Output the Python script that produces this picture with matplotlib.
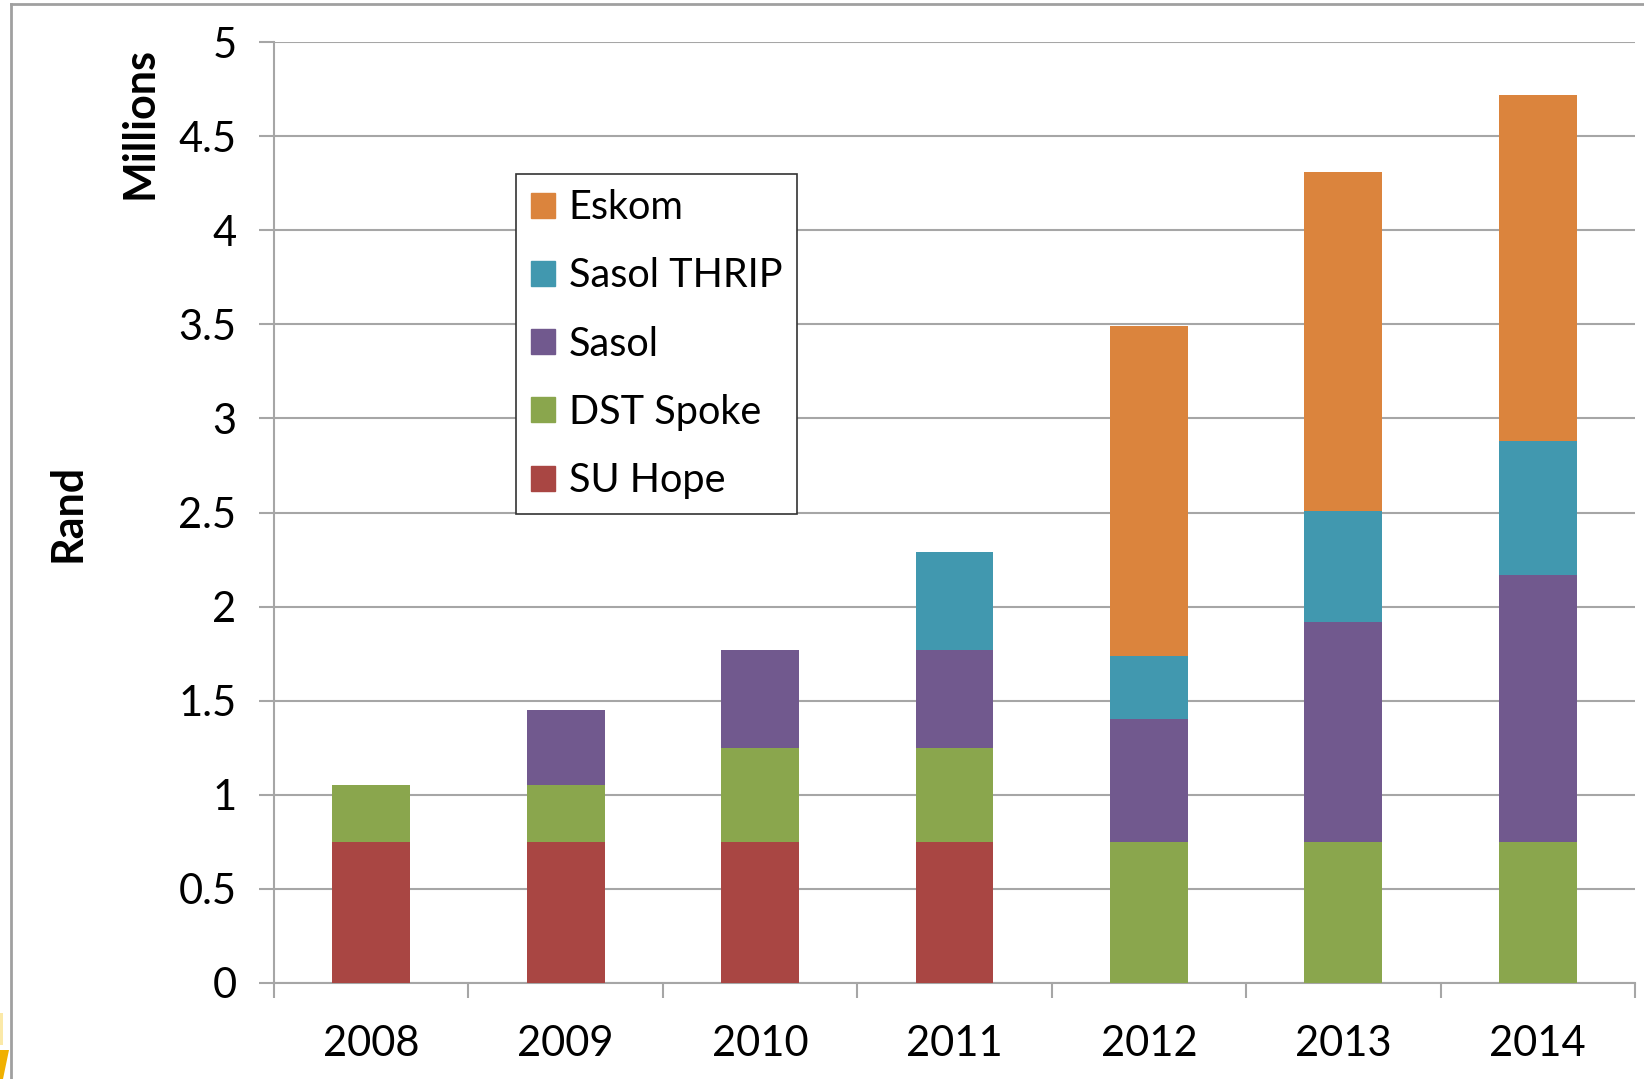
import matplotlib.pyplot as plt
import matplotlib.patches as mpatches
from matplotlib.lines import Line2D
import numpy as np

plt.rcParams['font.family'] = ['Lato', 'DejaVu Sans']

# Data (millions of Rand)
years = ["2008", "2009", "2010", "2011", "2012", "2013", "2014"]
su_hope = [0.75, 0.75, 0.75, 0.75, 0.0, 0.0, 0.0]
dst_spoke = [0.30, 0.30, 0.50, 0.50, 0.75, 0.75, 0.75]
sasol = [0.0, 0.40, 0.52, 0.52, 0.655, 1.17, 1.42]
sasol_thrip = [0.0, 0.0, 0.0, 0.52, 0.335, 0.59, 0.71]
eskom = [0.0, 0.0, 0.0, 0.0, 1.75, 1.80, 1.84]

series = [
    ("SU Hope", su_hope, "#A94643"),
    ("DST Spoke", dst_spoke, "#8AA64D"),
    ("Sasol", sasol, "#71598E"),
    ("Sasol THRIP", sasol_thrip, "#4198AF"),
    ("Eskom", eskom, "#DB843D"),
]

yticks = [0, 0.5, 1, 1.5, 2, 2.5, 3, 3.5, 4, 4.5, 5]
ytick_labels = ["0", "0.5", "1", "1.5", "2", "2.5", "3", "3.5", "4", "4.5", "5"]

fig = plt.figure(figsize=(16.44, 10.79), dpi=100)
ax = fig.add_axes([274 / 1644, 1 - 983 / 1079, (1635 - 274) / 1644, (983 - 42) / 1079])

x = np.arange(len(years))
bottom = np.zeros(len(years))
handles = []
for name, vals, color in series:
    vals = np.array(vals)
    ax.bar(x, vals, width=0.4, bottom=bottom, color=color, zorder=3)
    bottom += vals
    handles.append(mpatches.Patch(color=color, label=name))

ax.set_xlim(-0.5, len(years) - 0.5)
ax.set_ylim(0, 5)
ax.set_yticks(yticks)
ax.set_yticklabels(ytick_labels, fontsize=30)
ax.set_xticks(x)
ax.set_xticklabels(years, fontsize=30)
ax.set_xticks(np.arange(-0.5, len(years), 1), minor=True)

ax.grid(axis="y", color="#A6A6A6", linewidth=1.5, zorder=0)
ax.tick_params(axis="x", which="major", length=0, pad=30)
ax.tick_params(axis="x", which="minor", length=11, color="#A6A6A6", width=1.5)
ax.tick_params(axis="y", length=11, color="#A6A6A6", width=1.5, pad=16)
for s in ["top", "right"]:
    ax.spines[s].set_visible(False)
for s in ["left", "bottom"]:
    ax.spines[s].set_color("#A6A6A6")
    ax.spines[s].set_linewidth(1.5)

fig.text(140 / 1644, 1 - 123 / 1079, "Millions", rotation=90, fontsize=31,
         fontweight="bold", ha="center", va="center")
fig.text(67 / 1644, 1 - 513 / 1079, "Rand", rotation=90, fontsize=31,
         fontweight="bold", ha="center", va="center")

leg = fig.legend(handles=handles[::-1], loc="upper left",
                 bbox_to_anchor=(516 / 1644, 1 - 174 / 1079),
                 bbox_transform=fig.transFigure, borderaxespad=0,
                 fontsize=28.5, fancybox=False, framealpha=1,
                 handlelength=0.6, handleheight=0.6, handletextpad=0.35,
                 labelspacing=0.79, borderpad=0.38)
leg.get_frame().set_edgecolor("#333333")
leg.get_frame().set_linewidth(1.2)

# outer slide frame
fig.add_artist(Line2D([11 / 1644, 11 / 1644], [0, 1 - 4 / 1079],
                      transform=fig.transFigure, color="#A0A0A0", linewidth=2))
fig.add_artist(Line2D([11 / 1644, 1], [1 - 4 / 1079, 1 - 4 / 1079],
                      transform=fig.transFigure, color="#A0A0A0", linewidth=2))

# bits of a neighbouring shape peeking in at the bottom-left corner
fig.add_artist(mpatches.Rectangle((0, 1 - 1045 / 1079), 3 / 1644, 32 / 1079,
                                  transform=fig.transFigure, color="#FBE9A8", lw=0))
fig.add_artist(mpatches.Polygon([(0, 1 - 1050 / 1079), (9 / 1644, 1 - 1050 / 1079),
                                 (3 / 1644, 0), (0, 0)],
                                transform=fig.transFigure, color="#F0B000", lw=0))

fig.savefig("out.png", dpi=100)
